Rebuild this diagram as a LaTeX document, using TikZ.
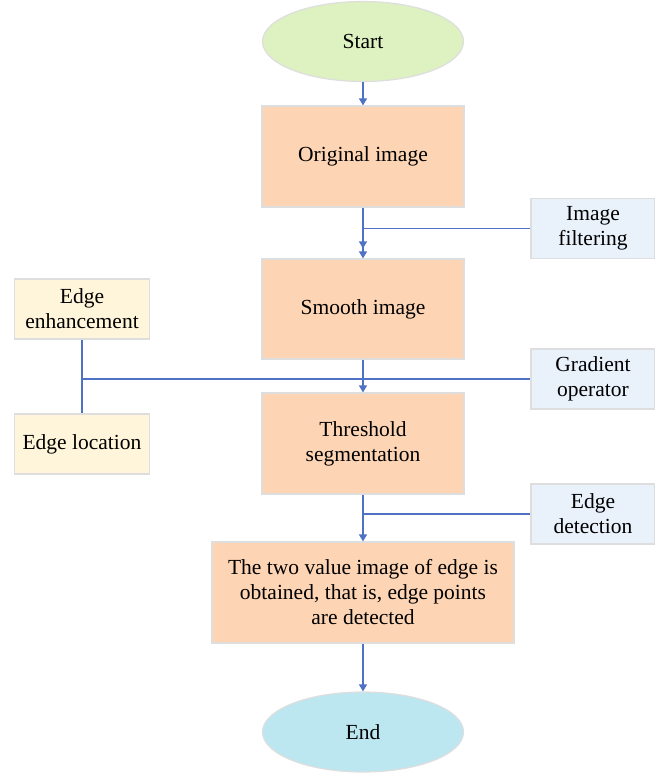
\documentclass[tikz,border=0pt]{standalone}
\usepackage{fontspec}
\setmainfont{Liberation Serif}
\usepackage{tikz}
\usetikzlibrary{arrows.meta,positioning,shapes.geometric}
\definecolor{peach}{HTML}{FDD5B5}
\definecolor{sand}{HTML}{FFF5DA}
\definecolor{mist}{HTML}{E9F1FB}
\definecolor{lime}{HTML}{DDF1C1}
\definecolor{sky}{HTML}{BCE7F1}
\definecolor{rim}{HTML}{DEDEDE}
\definecolor{wireblue}{HTML}{4F72C4}

\begin{document}
\begin{tikzpicture}[
  x=1pt, y=-1pt,
  font=\fontsize{21.5}{25}\selectfont,
  proc/.style={draw=rim, line width=1.2pt, fill=peach, minimum width=202pt, minimum height=101pt, align=center, inner sep=2pt},
  side/.style={draw=rim, line width=1.2pt, minimum width=135pt, minimum height=60pt, align=center, inner sep=2pt},
  term/.style={ellipse, draw=rim, line width=1.2pt, minimum width=201pt, minimum height=80pt, inner sep=0pt},
  wire/.style={draw=wireblue, line width=1.3pt},
  arr/.style={wire, -{Triangle[length=7pt, width=8pt]}},
]
\useasboundingbox (0,0) rectangle (655,774);
\node[term, fill=lime] (start) at (363,41.5) {Start};
\node[proc] (orig) at (363,156.5) {Original image};
\node[proc, minimum height=100pt] (smooth) at (363,309) {Smooth image};
\node[proc] (thr) at (363,443.5) {Threshold\\segmentation};
\node[proc, minimum width=302pt] (final) at (363,592.5) {The two value image of edge is\\obtained, that is, edge points\\are detected};
\node[term, fill=sky] (end) at (363,732) {End};
% side boxes
\node[side, fill=sand] (enh) at (82,309) {Edge\\enhancement};
\node[side, fill=sand] (loc) at (82,444) {Edge location};
\node[side, fill=mist, minimum width=124pt] (filt) at (593,228.5) {Image\\filtering};
\node[side, fill=mist, minimum width=124pt] (grad) at (593,379) {Gradient\\operator};
\node[side, fill=mist, minimum width=124pt] (det) at (593,514) {Edge\\detection};
% connectors
\draw[arr] (start) -- (orig);
\draw[arr] (orig) -- (smooth);
\draw[arr] (filt.west) -| ([yshift=10pt]smooth.north);
\draw[arr] (smooth) -- (thr);
\draw[wire] (enh.south) -- (loc.north);
\draw[wire] (enh.south |- grad.west) -- (grad.west);
\draw[arr] (thr) -- (final);
\draw[wire] (det.west) -- (det.west -| thr.south);
\draw[arr] (final) -- (end);
\end{tikzpicture}
\end{document}
